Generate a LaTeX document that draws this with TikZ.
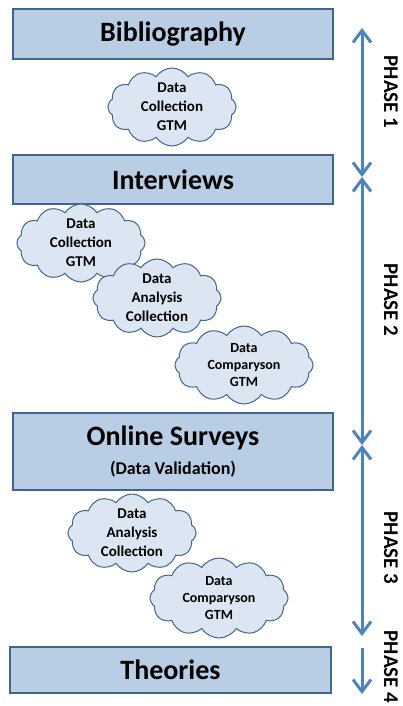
\documentclass[tikz,border=0pt]{standalone}
\usepackage{fontspec}
\setmainfont{Carlito}
\usetikzlibrary{shapes.symbols,arrows.meta}
\definecolor{boxfill}{HTML}{B9CDE5}
\definecolor{boxline}{HTML}{41658F}
\definecolor{cloudfill}{HTML}{DCE6F2}
\definecolor{arrowblue}{HTML}{4F81BD}

\tikzset{
  stage/.style={draw=boxline, fill=boxfill, line width=1.5pt, minimum width=320pt,
    minimum height=50pt, inner sep=0pt, align=center, font=\bfseries\fontsize{28}{32}\selectfont},
  idea/.style={cloud, cloud puffs=12, cloud puff arc=115, aspect=1.7, draw=boxline,
    fill=cloudfill, line width=1pt, inner sep=-4pt, align=center,
    minimum width=128pt, minimum height=78pt, font=\bfseries\fontsize{15}{19}\selectfont},
  phase/.style={rotate=-90, font=\bfseries\fontsize{21}{24}\selectfont},
  span/.style={draw=arrowblue, line width=3pt, >={Straight Barb[length=12pt,width=18pt]}}
}

\begin{document}
\begin{tikzpicture}[x=1pt, y=-1pt]
  \useasboundingbox (0,0) rectangle (402,706);

  \node[stage] (biblio) at (173,34) {Bibliography};
  \node[stage, minimum height=49pt] (interv) at (173,179.5) {Interviews};
  \node[stage, minimum height=77pt] (survey) at (173,451.5)
    {Online Surveys\\[-3pt]{\fontsize{18}{20}\selectfont(Data Validation)}};
  \node[stage, minimum width=321pt, minimum height=46pt] (theory) at (170.5,670) {Theories};

  \node[idea] (c1) at (172,107) {Data\\Collection\\GTM};
  \node[idea] (c2) at (81,243) {Data\\Collection\\GTM};
  \node[idea] (c3) at (157,298) {Data\\Analysis\\Collection};
  \node[idea, minimum width=138pt, font=\bfseries\fontsize{14}{17}\selectfont] (c4) at (244,365) {Data\\Comparyson\\GTM};
  \node[idea] (c5) at (132,533) {Data\\Analysis\\Collection};
  \node[idea, minimum width=138pt, minimum height=80pt, font=\bfseries\fontsize{14}{17}\selectfont] (c6) at (219,598) {Data\\Comparyson\\GTM};

  \coordinate (a0) at (362,28);
  \coordinate (a1) at (362,177);
  \coordinate (a2) at (362,445);
  \coordinate (a3) at (362,636);
  \coordinate (a4) at (362,648);
  \coordinate (a5) at (362,694);
  \draw[span,<->] (a0) -- (a1);
  \draw[span,<->] (a1) -- (a2);
  \draw[span,<->] (a2) -- (a3);
  \draw[span,->] (a4) -- (a5);

  \node[phase] (p1) at (391,92) {PHASE 1};
  \node[phase] (p2) at (391,300) {PHASE 2};
  \node[phase] (p3) at (391,548) {PHASE 3};
  \node[phase] (p4) at (391,667) {PHASE 4};
\end{tikzpicture}
\end{document}
